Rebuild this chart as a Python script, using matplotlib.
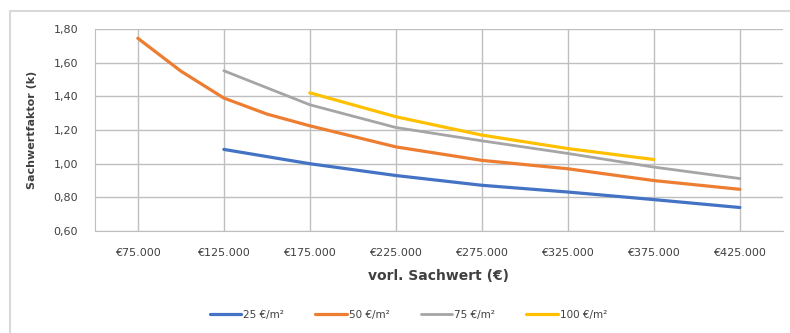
import numpy as np
import matplotlib.pyplot as plt
from matplotlib.ticker import FuncFormatter, FixedLocator
from matplotlib.patches import Rectangle

# vorl. Sachwert (EUR)
x_vals = [75000, 100000, 125000, 150000, 175000, 225000, 275000, 325000, 375000, 425000]

# Sachwertfaktor je Bodenwert
s25 = [np.nan, np.nan, 1.085, np.nan, 1.00, 0.93, 0.872, 0.832, 0.787, 0.74]
s50 = [1.745, 1.55, 1.39, 1.295, 1.225, 1.10, 1.02, 0.97, 0.90, 0.848]
s75 = [np.nan, np.nan, 1.552, np.nan, 1.35, 1.215, 1.136, 1.061, 0.98, 0.912]
s100 = [np.nan, np.nan, np.nan, np.nan, 1.421, 1.279, 1.17, 1.09, 1.025, np.nan]

labels = ["25 €/m²", "50 €/m²", "75 €/m²", "100 €/m²"]
colors = ["#4472C4", "#ED7D31", "#A5A5A5", "#FFC000"]

xticks = [75000, 125000, 175000, 225000, 275000, 325000, 375000, 425000]
yticks = [0.6, 0.8, 1.0, 1.2, 1.4, 1.6, 1.8]

fig = plt.figure(figsize=(7.9, 3.33), dpi=100)
ax = fig.add_axes([0.120, 0.306, 0.871, 0.607])

x = np.array(x_vals, dtype=float)
for ser, lab, col in zip([s25, s50, s75, s100], labels, colors):
    y = np.array(ser, dtype=float)
    m = ~np.isnan(y)
    lw = 2.0 if col == "#A5A5A5" else 2.3
    ax.plot(x[m], y[m], color=col, lw=lw, label=lab, solid_capstyle="round")

ax.set_xlim(50000, 450000)
ax.set_ylim(0.6, 1.8)
ax.xaxis.set_major_locator(FixedLocator(xticks))
ax.yaxis.set_major_locator(FixedLocator(yticks))
ax.xaxis.set_major_formatter(FuncFormatter(lambda v, p: "€" + f"{int(v):,}".replace(",", ".")))
ax.yaxis.set_major_formatter(FuncFormatter(lambda v, p: f"{v:.2f}".replace(".", ",")))
ax.grid(True, color="#bfbfbf", lw=1.0)
ax.set_axisbelow(True)
ax.tick_params(length=0, labelsize=8, colors="#404040")
ax.tick_params(axis="x", pad=12)
ax.tick_params(axis="y", pad=12)
for s in ["top", "right"]:
    ax.spines[s].set_visible(False)
for s in ["left", "bottom"]:
    ax.spines[s].set_color("#bfbfbf")

ax.set_xlabel("vorl. Sachwert (€)", fontsize=10, fontweight="bold", color="#404040", labelpad=8)
ax.set_ylabel("Sachwertfaktor (k)", fontsize=8, fontweight="bold", color="#404040", labelpad=12)

fig.legend(loc="center", bbox_to_anchor=(0.517, 0.054), ncol=4, frameon=False,
           fontsize=7.5, handlelength=3.0, handletextpad=0.2, columnspacing=3.0,
           labelcolor="#404040")

fig.patches.append(Rectangle((0.013, -0.05), 1.05, 1.017, transform=fig.transFigure,
                             fill=False, ec="#d9d9d9", lw=1.5))

fig.savefig("out.png", dpi=100)
